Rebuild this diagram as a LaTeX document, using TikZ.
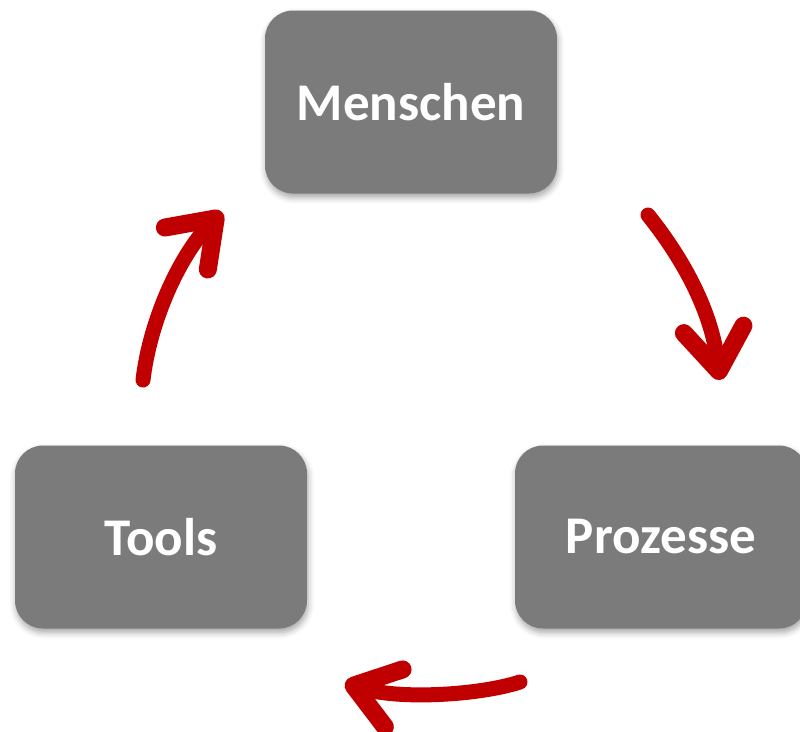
\documentclass[tikz,border=0pt]{standalone}
\usepackage{fontspec}
\setmainfont{Carlito}
\usetikzlibrary{arrows.meta,shadows.blur}
\definecolor{boxgray}{HTML}{7B7B7B}
\definecolor{arrowred}{HTML}{C00000}
\tikzset{
  box/.style={rectangle, rounded corners=28pt, fill=boxgray,
    minimum width=292pt, minimum height=183pt, inner sep=0pt,
    text=white, font=\fontsize{53}{60}\selectfont\bfseries,
    blur shadow={shadow xshift=1pt, shadow yshift=-4pt, shadow blur radius=6pt, shadow opacity=35}},
  cyc/.style={draw=arrowred, line width=15pt, line cap=round,
    -{Straight Barb[length=42pt, width=60pt, round, line width=18pt]}}
}
\begin{document}
\begin{tikzpicture}[x=1pt, y=-1pt]
\useasboundingbox (0,0) rectangle (800,731);
\node[box] (m) at (411,102) {Menschen};
\node[box] (t) at (161,537) {Tools};
\node[box] (p) at (661,537) {Prozesse};
\coordinate (a1s) at (143,380);
\coordinate (a1e) at (222,212);
\coordinate (a2s) at (648,215);
\coordinate (a2e) at (720,380);
\coordinate (a3s) at (520,682);
\coordinate (a3e) at (345,683);
\draw[cyc] (a1s) .. controls (150,320) and (180,255) .. (a1e);
\draw[cyc] (a2s) .. controls (672,245) and (710,300) .. (a2e);
\draw[cyc] (a3s) .. controls (480,695) and (400,700) .. (a3e);
\end{tikzpicture}
\end{document}
